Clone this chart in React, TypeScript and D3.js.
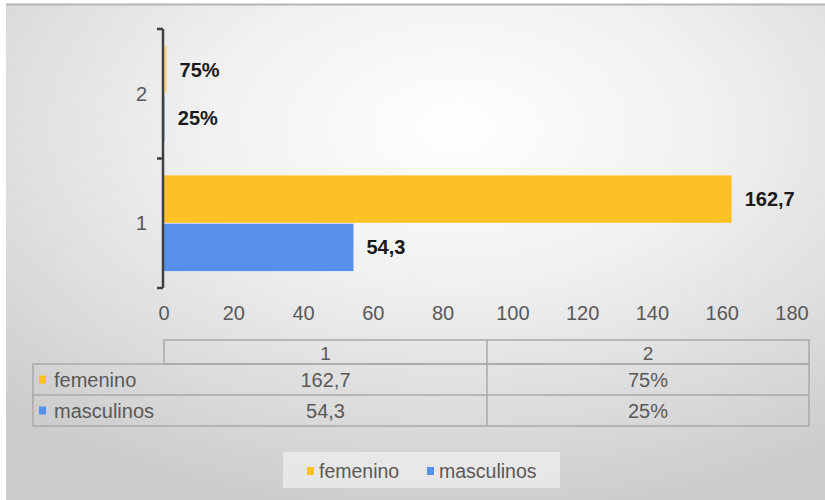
import React from "react";
import * as d3 from "d3";

const categories = ["1", "2"];
const seriesNames = ["femenino", "masculinos"];
const femenino = [162.7, 0.75];
const masculinos = [54.3, 0.25];
const xTicks = [0, 20, 40, 60, 80, 100, 120, 140, 160, 180];
const colors = ["#FBC125", "#5690EA"];

const W = 825;
const H = 500;
const FONT = "'Liberation Sans', Arial, sans-serif";

function fmt(v: number, catIdx: number): string {
  if (catIdx === 1) return d3.format(".0%")(v);
  return d3.format(".1f")(v).replace(".", ",");
}

export default function App() {
  const series = [femenino, masculinos];
  const x = d3.scaleLinear().domain([0, 180]).range([164, 792]);
  const y = d3
    .scaleBand<string>()
    .domain([...categories].reverse())
    .range([29, 288])
    .padding(0);
  const inner = d3
    .scaleBand<string>()
    .domain(seriesNames)
    .range([0, y.bandwidth()])
    .paddingInner(0.02)
    .paddingOuter(0.35);

  // table geometry
  const colEdges = [33, 164, 487, 809];
  const rowEdges = [340, 364, 395, 426];
  const tableStroke = "#a9a9a9";

  return (
    <svg
      width={W}
      height={H}
      style={{ position: "absolute", left: 0, top: 0, display: "block" }}
      fontFamily={FONT}
    >
      <defs>
        <radialGradient id="bg" cx="0.55" cy="0.25" r="0.8">
          <stop offset="0" stopColor="#ffffff" />
          <stop offset="0.4" stopColor="#f0f0f0" />
          <stop offset="1" stopColor="#cbcbcb" />
        </radialGradient>
      </defs>
      <rect x={0} y={0} width={W} height={H} fill="#ffffff" />
      <rect x={6} y={4} width={W - 6} height={H - 4} fill="url(#bg)" />
      <line x1={6} x2={W} y1={4.5} y2={4.5} stroke="#b4b4b4" strokeWidth={2} />

      {/* bars */}
      {categories.map((c, ci) =>
        seriesNames.map((s, si) => {
          const v = series[si][ci];
          const by = (y(c) as number) + (inner(s) as number);
          return (
            <g key={c + s}>
              <rect
                x={x(0)}
                y={by}
                width={x(v) - x(0)}
                height={inner.bandwidth()}
                fill={colors[si]}
                fillOpacity={ci === 1 ? 0.5 : 1}
              />
              <text
                x={x(v) + 13}
                y={by + inner.bandwidth() / 2}
                dy="0.35em"
                fontSize={20}
                fontWeight="bold"
                fill="#1a1a1a"
              >
                {fmt(v, ci)}
              </text>
            </g>
          );
        })
      )}

      {/* y axis */}
      <line x1={163} x2={163} y1={y.range()[0]} y2={y.range()[1]} stroke="#404040" strokeWidth={2.5} />
      {[...y.domain().map((d) => y(d) as number), y.range()[1]].map((t, i) => (
        <line key={i} x1={157} x2={163} y1={t} y2={t} stroke="#404040" strokeWidth={2.5} />
      ))}
      {categories.map((c) => (
        <text
          key={c}
          x={147}
          y={(y(c) as number) + y.bandwidth() / 2}
          dy="0.35em"
          textAnchor="end"
          fontSize={20}
          fill="#595959"
        >
          {c}
        </text>
      ))}

      {/* x tick labels */}
      {xTicks.map((t) => (
        <text key={t} x={x(t)} y={313} dy="0.35em" textAnchor="middle" fontSize={20} fill="#595959">
          {t}
        </text>
      ))}

      {/* data table */}
      <g stroke={tableStroke} strokeWidth={1.5} fill="none">
        <rect x={colEdges[1]} y={rowEdges[0]} width={colEdges[3] - colEdges[1]} height={rowEdges[1] - rowEdges[0]} />
        <rect x={colEdges[0]} y={rowEdges[1]} width={colEdges[3] - colEdges[0]} height={rowEdges[3] - rowEdges[1]} />
        <line x1={colEdges[0]} x2={colEdges[3]} y1={rowEdges[2]} y2={rowEdges[2]} />
        <line x1={colEdges[2]} x2={colEdges[2]} y1={rowEdges[0]} y2={rowEdges[3]} />
      </g>
      {categories.map((c, ci) => (
        <text
          key={"h" + c}
          x={(colEdges[ci + 1] + colEdges[ci + 2]) / 2}
          y={(rowEdges[0] + rowEdges[1]) / 2 + 1}
          dy="0.35em"
          textAnchor="middle"
          fontSize={19}
          fill="#595959"
        >
          {c}
        </text>
      ))}
      {seriesNames.map((s, si) => (
        <g key={"r" + s}>
          <rect x={39} y={(rowEdges[si + 1] + rowEdges[si + 2]) / 2 - 4} width={7} height={8} fill={colors[si]} />
          <text
            x={54}
            y={(rowEdges[si + 1] + rowEdges[si + 2]) / 2}
            dy="0.35em"
            fontSize={20}
            fill="#595959"
          >
            {s}
          </text>
          {categories.map((c, ci) => (
            <text
              key={c}
              x={(colEdges[ci + 1] + colEdges[ci + 2]) / 2}
              y={(rowEdges[si + 1] + rowEdges[si + 2]) / 2}
              dy="0.35em"
              textAnchor="middle"
              fontSize={20}
              fill="#595959"
            >
              {fmt(series[si][ci], ci)}
            </text>
          ))}
        </g>
      ))}

      {/* legend */}
      <rect x={283} y={452} width={277} height={36} fill="#ebebeb" opacity={0.85} />
      {seriesNames.map((s, si) => {
        const lx = [307, 427][si];
        return (
          <g key={"l" + s}>
            <rect x={lx} y={467} width={7} height={8} fill={colors[si]} />
            <text x={lx + 12} y={471} dy="0.35em" fontSize={19.5} fill="#595959">
              {s}
            </text>
          </g>
        );
      })}
    </svg>
  );
}
